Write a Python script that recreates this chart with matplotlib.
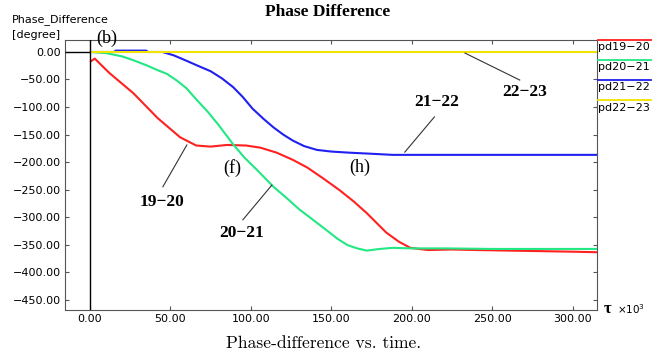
import matplotlib
matplotlib.use('Agg')
import matplotlib.pyplot as plt
from matplotlib.lines import Line2D

# time axis is in units of 10^3 (tau), phase difference in degrees
t_red = [0, 3, 12, 27, 42, 56, 66, 75, 85, 97, 106, 116, 126, 135, 145, 155,
         164, 172, 184, 192, 199, 210, 225, 240, 260, 280, 300, 315]
pd_red = [-18, -12, -38, -75, -120, -155, -170, -172, -169, -170, -174, -183,
          -196, -210, -230, -251, -272, -293, -328, -345, -356, -360, -359,
          -360, -361, -362, -363, -364]

t_green = [0, 10, 20, 27, 35, 42, 48, 54, 60, 66, 73, 80, 89, 96, 104, 114,
           122, 130, 139, 147, 154, 160, 166, 172, 180, 188, 200, 220, 250,
           280, 315]
pd_green = [0, -2, -8, -15, -24, -33, -40, -52, -66, -86, -108, -133, -168,
            -192, -215, -245, -265, -286, -306, -324, -340, -351, -357, -361,
            -358, -356, -357, -357, -358, -358, -358]

t_blue = [0, 15, 16, 35, 36, 45, 52, 60, 67, 75, 82, 89, 95, 101, 108, 114,
          120, 126, 133, 141, 150, 161, 175, 188, 210, 250, 315]
pd_blue = [0, 0, 2.5, 2.5, 0, 0, -6, -16, -25, -35, -48, -64, -82, -103, -122,
           -137, -150, -161, -171, -178, -181, -183, -185, -187, -187, -187,
           -187]

t_yellow = [0, 315]
pd_yellow = [0, 0]

series = [("pd19\u221220", t_red, pd_red, '#ff2020'),
          ("pd20\u221221", t_green, pd_green, '#22e883'),
          ("pd21\u221222", t_blue, pd_blue, '#2020f0'),
          ("pd22\u221223", t_yellow, pd_yellow, '#f2e400')]

x_ticks = [0, 50, 100, 150, 200, 250, 300]
y_ticks = [0, -50, -100, -150, -200, -250, -300, -350, -400, -450]

W, H = 668, 360
fig = plt.figure(figsize=(W / 100, H / 100), dpi=100)


def fx(px):
    return px / W


def fy(py):
    return 1 - py / H


ax = fig.add_axes([fx(65), fy(310), fx(597) - fx(65), (310 - 40) / H])
ax.set_xlim(-15.5, 315)
ax.set_ylim(-469, 21.8)

for name, tt, vv, col in series:
    ax.plot(tt, vv, color=col, lw=1.5, solid_capstyle='butt')

ax.axvline(0, color='black', lw=1.0, zorder=5)
ax.hlines(0, -15.5, 0, color='black', lw=1.0, zorder=5)

for s in ax.spines.values():
    s.set_linestyle((0, (1, 1)))
    s.set_linewidth(0.8)
    s.set_color('#555555')

ax.set_xticks(x_ticks)
ax.set_xticklabels(["%.2f" % v for v in x_ticks])
ax.set_yticks(y_ticks)
ax.set_yticklabels([("%.2f" % v).replace('-', '\u2212') for v in y_ticks])
ax.tick_params(direction='in', length=3, width=0.8, color='#555555',
               top=True, right=True, labelsize=8, pad=3)
for lab in ax.get_xticklabels() + ax.get_yticklabels():
    lab.set_family('DejaVu Sans')

# axis labels / title / caption
fig.text(fx(12), fy(20), "Phase_Difference", fontsize=8, family='DejaVu Sans',
         va='center', ha='left')
fig.text(fx(12), fy(35), "[degree]", fontsize=8, family='DejaVu Sans',
         va='center', ha='left')
fig.text(fx(328), fy(12), "Phase Difference", fontsize=12.5,
         family='Liberation Serif', fontweight='bold', va='center',
         ha='center')
fig.text(fx(324), fy(343), "Phase-difference vs. time.", fontsize=12.6,
         family='cmr10', va='center', ha='center')
fig.text(fx(604), fy(309), "\u03c4", fontsize=12, family='Liberation Serif',
         fontweight='bold', va='center', ha='left')
fig.text(fx(617), fy(309), r"$\times10^3$", fontsize=7.5, va='center',
         ha='left')

# legend at right
for i, (name, tt, vv, col) in enumerate(series):
    ly = 40 + 20 * i
    fig.add_artist(Line2D([fx(598), fx(651)], [fy(ly), fy(ly)], color=col,
                          lw=1.3))
    fig.text(fx(598), fy(ly + 7.5), name, fontsize=8, family='DejaVu Sans',
             va='center', ha='left')

# annotations
serif = 'Liberation Serif'
ax.text(10.6, 25.5, "(b)", fontsize=13, family=serif, ha='center',
        va='center', clip_on=False)
ax.text(88.2, -211, "(f)", fontsize=13, family=serif, ha='center',
        va='center')
ax.text(167.7, -209, "(h)", fontsize=13, family=serif, ha='center',
        va='center')

notes = [("19\u221220", (44.7, -273), (45.3, -245), (60.2, -169)),
         ("20\u221221", (94.4, -329), (95.0, -305), (113.0, -242)),
         ("21\u221222", (215.5, -91), (214.0, -118), (195.6, -182)),
         ("22\u221223", (270.0, -73), (267.0, -51), (233.0, -2))]
for txt, pos, a, b in notes:
    ax.text(pos[0], pos[1], txt, fontsize=12.5, family=serif,
            fontweight='bold', ha='center', va='center')
    ax.plot([a[0], b[0]], [a[1], b[1]], color='#333333', lw=0.8)

fig.savefig('out.png', dpi=100)
